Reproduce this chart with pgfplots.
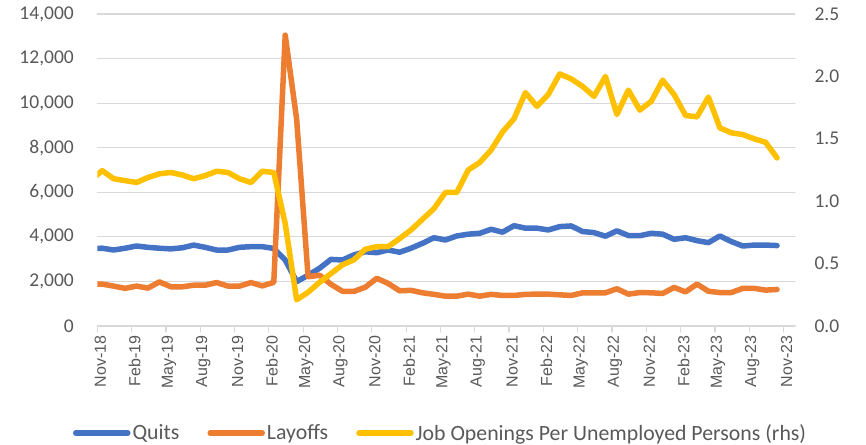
\documentclass[border=0pt]{standalone}
\usepackage{fontspec}
\setmainfont{Carlito}
\newfontfamily\arialf{Liberation Sans}
\usepackage{pgfplots}
\usepackage{pgfplotstable}
\pgfplotsset{compat=1.18}
\definecolor{cblue}{HTML}{4472C4}
\definecolor{corange}{HTML}{ED7D31}
\definecolor{cyellow}{HTML}{FFC000}
\definecolor{ctext}{HTML}{595959}
\definecolor{cgrid}{HTML}{D9D9D9}

\pgfplotstableread{
k quits layoffs ratio
-1 3480 1880 1.17
0 3490 1880 1.245
1 3410 1790 1.18
2 3490 1690 1.165
3 3590 1790 1.15
4 3530 1700 1.19
5 3490 1980 1.22
6 3460 1760 1.23
7 3510 1760 1.21
8 3630 1830 1.18
9 3530 1830 1.205
10 3410 1950 1.24
11 3410 1790 1.23
12 3530 1790 1.18
13 3560 1950 1.15
14 3560 1800 1.24
15 3480 1960 1.23
16 2960 13050 0.82
17 1990 9270 0.21
18 2280 2210 0.27
19 2590 2280 0.35
20 2990 1870 0.42
21 2960 1560 0.49
22 3190 1550 0.53
23 3330 1740 0.615
24 3290 2140 0.636
25 3410 1910 0.636
26 3310 1580 0.70
27 3490 1600 0.77
28 3710 1490 0.855
29 3960 1420 0.94
30 3860 1340 1.07
31 4040 1340 1.07
32 4120 1430 1.25
33 4160 1340 1.31
34 4340 1420 1.41
35 4210 1370 1.555
36 4500 1370 1.66
37 4390 1420 1.87
38 4390 1430 1.76
39 4310 1430 1.855
40 4460 1400 2.02
41 4490 1370 1.98
42 4240 1490 1.92
43 4190 1490 1.84
44 4030 1490 2.00
45 4270 1670 1.695
46 4060 1430 1.89
47 4050 1500 1.73
48 4160 1490 1.80
49 4120 1460 1.97
50 3890 1730 1.855
51 3960 1530 1.687
52 3830 1880 1.676
53 3740 1560 1.834
54 4040 1500 1.588
55 3790 1500 1.548
56 3590 1690 1.534
57 3630 1690 1.50
58 3630 1610 1.472
59 3610 1640 1.347
}\datatable

\begin{document}
\begin{tikzpicture}
\begin{axis}[
  at={(0pt,0pt)}, anchor=south west,
  scale only axis, width=697.7pt, height=312pt,
  xmin=0, xmax=61, ymin=0, ymax=14000,
  axis x line*=bottom, axis y line*=left,
  every outer x axis line/.append style={-, cgrid, line width=1.2pt},
  every outer y axis line/.append style={draw=none},
  xtick={0,3,...,60},
  xticklabels={Nov-18,Feb-19,May-19,Aug-19,Nov-19,Feb-20,May-20,Aug-20,Nov-20,Feb-21,May-21,Aug-21,Nov-21,Feb-22,May-22,Aug-22,Nov-22,Feb-23,May-23,Aug-23,Nov-23},
  xtick style={cgrid, line width=1.2pt},
  tick align=outside, major tick length=6pt,
  ytick={0,2000,4000,6000,8000,10000,12000,14000},
  scaled y ticks=false,
  ytick style={draw=none},
  ymajorgrids, grid style={cgrid, line width=1.2pt},
  /pgf/number format/1000 sep={,},
  /pgf/number format/assume math mode=true,
  yticklabel style={font=\fontsize{19.5}{20}\selectfont, text=ctext, xshift=-14pt},
  xticklabel style={font=\arialf\fontsize{16}{18}\selectfont, text=ctext, rotate=90, anchor=east, yshift=-3pt},
  line join=round, line cap=round,
]
\addplot[cblue, line width=5.5pt] table[x expr=\thisrow{k}+0.43, y=quits] {\datatable};
\addplot[corange, line width=5.5pt] table[x expr=\thisrow{k}+0.43, y=layoffs] {\datatable};
\end{axis}
\begin{axis}[
  at={(0pt,0pt)}, anchor=south west,
  scale only axis, width=697.7pt, height=312pt,
  xmin=0, xmax=61, ymin=0, ymax=2.5,
  axis y line*=right, axis x line=none,
  every outer y axis line/.append style={draw=none},
  ytick={0,0.5,1,1.5,2,2.5},
  ytick style={draw=none},
  /pgf/number format/fixed, /pgf/number format/fixed zerofill, /pgf/number format/precision=1,
  /pgf/number format/assume math mode=true,
  yticklabel style={font=\fontsize{19.5}{20}\selectfont, text=ctext, xshift=16pt},
  line join=round, line cap=round,
  legend columns=3,
  legend style={at={(0.492,-0.343)}, anchor=center, draw=none, fill=none,
    font=\fontsize{21.8}{24}\selectfont, text=ctext,
    /tikz/every even column/.append style={column sep=26pt}},
  legend image code/.code={\draw[#1, line cap=round] (0pt,0pt) -- (52pt,0pt);},
]
\addlegendimage{cblue, line width=5.5pt}\addlegendentry{Quits}
\addlegendimage{corange, line width=5.5pt}\addlegendentry{Layoffs}
\addplot[cyellow, line width=5.5pt] table[x expr=\thisrow{k}+0.43, y=ratio] {\datatable};
\addlegendentry{Job Openings Per Unemployed Persons (rhs)}
\end{axis}
\pgfresetboundingbox
\path[use as bounding box] (-97.3pt,-118pt) rectangle (768.7pt,326pt);
\end{tikzpicture}
\end{document}
